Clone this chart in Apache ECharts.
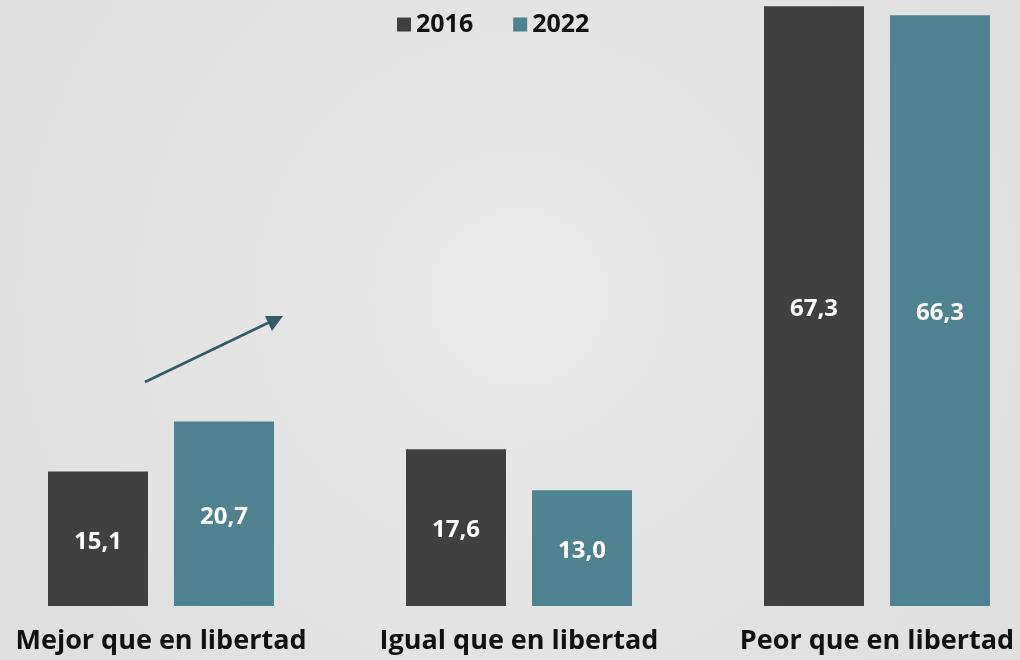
<!DOCTYPE html>
<html>
<head>
<meta charset="utf-8">
<script src="https://cdn.jsdelivr.net/npm/echarts@6/dist/echarts.min.js"></script>
<style>
html, body { margin: 0; padding: 0; width: 1020px; height: 660px; overflow: hidden; background: #e4e4e4; position: relative; }
/* a bit wider than the page so the outer bars sit where the original ones do */
#chart { position: absolute; left: -18px; top: 0; width: 1074px; height: 660px; }
</style>
</head>
<body>
<div id="chart"></div>
<script>
const categories = ["Mejor que en libertad", "Igual que en libertad", "Peor que en libertad"];
const years = ["2016", "2022"];
const values2016 = [15.1, 17.6, 67.3];
const values2022 = [20.7, 13.0, 66.3];

const fmt = (p) => p.value.toFixed(1).replace(".", ",");
const labelStyle = {
  show: true,
  position: "inside",
  offset: [0, 3],
  color: "#ffffff",
  fontFamily: "Open Sans",
  fontWeight: "bold",
  fontSize: 24,
  formatter: fmt,
};

const chart = echarts.init(document.getElementById("chart"));
chart.setOption({
  backgroundColor: {
    type: "radial", x: 0.5, y: 0.45, r: 0.8,
    colorStops: [
      { offset: 0, color: "#e9e9e9" },
      { offset: 1, color: "#e0e0e0" },
    ],
  },
  animation: false,
  legend: {
    data: years,
    top: 7,
    left: 410,
    itemWidth: 14,
    itemHeight: 14,
    itemGap: 40,
    icon: "rect",
    textStyle: { fontFamily: "Open Sans", fontWeight: "bold", fontSize: 25, color: "#111" },
  },
  grid: { left: 0, right: 0, top: 0, bottom: 54, containLabel: false },
  xAxis: {
    type: "category",
    data: categories,
    axisLine: { show: false },
    axisTick: { show: false },
    axisLabel: {
      interval: 0,
      hideOverlap: false,
      margin: 22,
      fontFamily: "Open Sans",
      fontWeight: "bold",
      fontSize: 27,
      color: "#111",
    },
  },
  yAxis: { type: "value", min: 0, max: 68, show: false, splitLine: { show: false } },
  series: [
    {
      name: "2016", type: "bar", data: values2016, barWidth: 100, barGap: "26%",
      itemStyle: { color: "#404040" }, label: labelStyle,
    },
    {
      name: "2022", type: "bar", data: values2022, barWidth: 100,
      itemStyle: { color: "#4e8290" }, label: labelStyle,
    },
  ],
  graphic: [
    {
      type: "line",
      shape: { x1: 163, y1: 382, x2: 290, y2: 321 },
      style: { stroke: "#2f5d66", lineWidth: 2.5 },
    },
    {
      type: "polygon",
      shape: { points: [[301, 316], [283, 316], [290, 331]] },
      style: { fill: "#2f5d66" },
    },
  ],
});
</script>
</body>
</html>
